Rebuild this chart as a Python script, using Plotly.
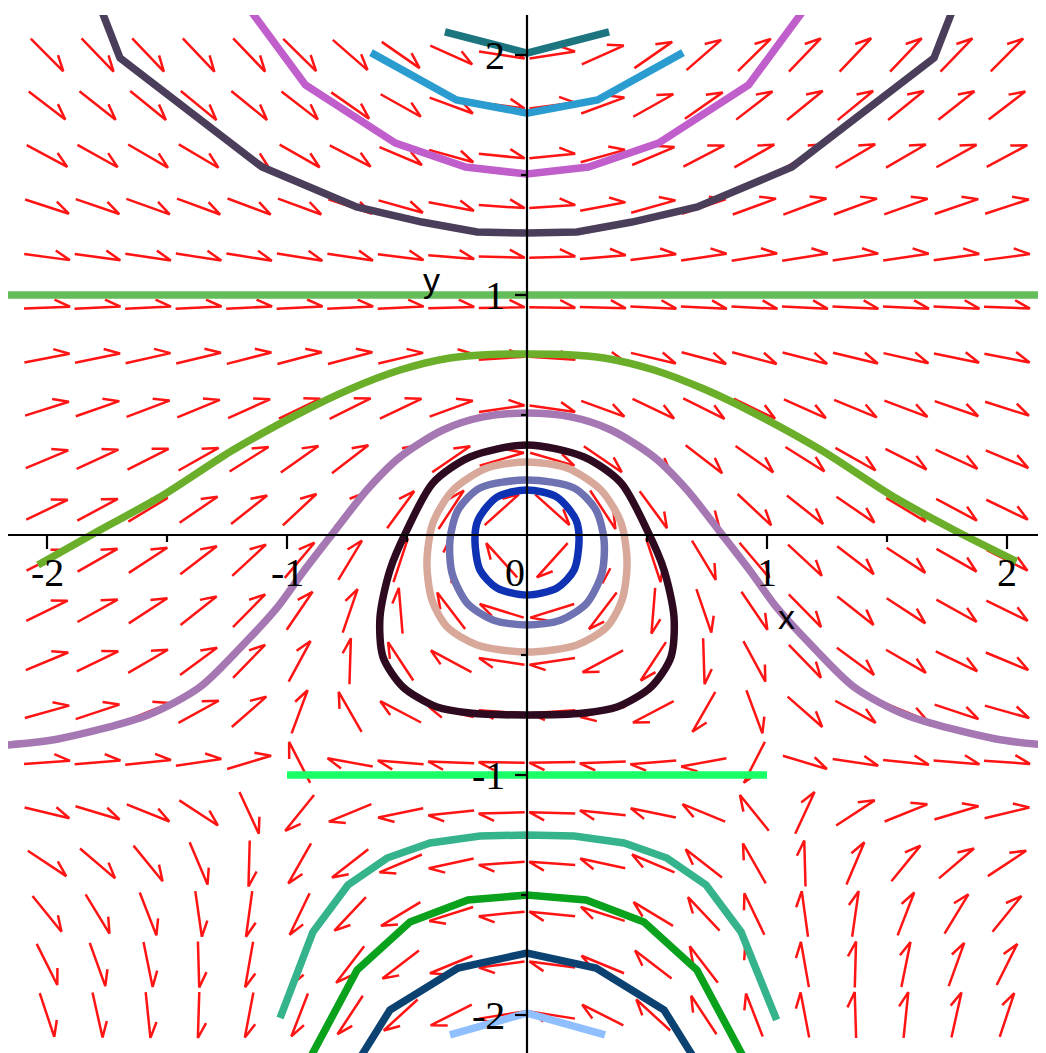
import numpy as np
import plotly.graph_objects as go

# ---------------- data ----------------
# direction-field grid (20 x 20 over [-2, 2])
grid_x = [-2 + i * 4 / 19 for i in range(20)]
grid_y = [-2 + j * 4 / 19 for j in range(20)]

# system: x' = y + x^2 ,  y' = -x (1 - y^2)
def field(x, y):
    return y + x * x, -x * (1 - y * y)

# trajectories (vertices)
traj_teal_x = [-0.342, 0.0, 0.342]
traj_teal_y = [2.096, 2.008, 2.096]

traj_sky_x = [-0.65, -0.294, 0.0, 0.294, 0.65]
traj_sky_y = [2.01, 1.8125, 1.758, 1.8125, 2.01]

traj_orchid_x = [-1.17, -0.923, -0.548, -0.256, 0.0, 0.256, 0.548, 0.923, 1.17]
traj_orchid_y = [2.21, 1.875, 1.633, 1.533, 1.504, 1.533, 1.633, 1.875, 2.21]

traj_dark_x = [-1.79, -1.696, -1.104, -0.71, -0.4375, -0.208, 0.0, 0.208, 0.4375, 0.71, 1.104, 1.696, 1.79]
traj_dark_y = [2.23, 1.988, 1.533, 1.367, 1.304, 1.2625, 1.258, 1.2625, 1.304, 1.367, 1.533, 1.988, 2.23]

traj_line_top_x = [-2.3, 2.3]
traj_line_top_y = [1.0, 1.0]

traj_bell_x = [-2.0375, -1.779, -1.529, -1.225, -0.946, -0.74, -0.529, -0.321, -0.15, 0.0,
               0.15, 0.321, 0.529, 0.74, 0.946, 1.225, 1.529, 1.779, 2.04]
traj_bell_y = [-0.125, 0.021, 0.158, 0.354, 0.508, 0.607, 0.6875, 0.7375, 0.752, 0.754,
               0.752, 0.7375, 0.6875, 0.607, 0.508, 0.354, 0.158, 0.021, -0.11]

traj_lav_x = [-2.2, -1.954, -1.579, -1.3625, -1.196, -1.042, -0.933, -0.808, -0.667, -0.529, -0.35, -0.183, 0.0,
              0.183, 0.35, 0.529, 0.667, 0.808, 0.933, 1.042, 1.196, 1.3625, 1.579, 1.954, 2.2]
traj_lav_y = [-0.878, -0.85, -0.75, -0.633, -0.471, -0.304, -0.154, 0.008, 0.1875, 0.325, 0.4375, 0.492, 0.508,
              0.492, 0.4375, 0.325, 0.1875, 0.008, -0.154, -0.304, -0.471, -0.633, -0.75, -0.85, -0.878]

loop_black_x = [0.0, -0.2375, -0.392, -0.5, -0.571, -0.6125, -0.6, -0.517, -0.375, -0.2375, 0.0,
                0.2375, 0.375, 0.517, 0.6, 0.6125, 0.571, 0.5, 0.392, 0.2375, 0.0]
loop_black_y = [0.375, 0.325, 0.217, 0.021, -0.146, -0.342, -0.508, -0.633, -0.717, -0.742, -0.75,
                -0.742, -0.717, -0.633, -0.508, -0.342, -0.146, 0.021, 0.217, 0.325, 0.375]

loop_tan_x = [0.0, -0.167, -0.308, -0.392, -0.417, -0.396, -0.333, -0.208, 0.0,
              0.208, 0.333, 0.396, 0.417, 0.392, 0.308, 0.167, 0.0]
loop_tan_y = [0.304, 0.279, 0.1875, 0.05, -0.117, -0.271, -0.383, -0.458, -0.4875,
              -0.458, -0.383, -0.271, -0.117, 0.05, 0.1875, 0.279, 0.304]

loop_slate_x = [0.0, -0.196, -0.2875, -0.321, -0.3125, -0.25, -0.142, 0.0,
                0.142, 0.25, 0.3125, 0.321, 0.2875, 0.196, 0.0]
loop_slate_y = [0.229, 0.196, 0.104, -0.021, -0.158, -0.283, -0.354, -0.375,
                -0.354, -0.283, -0.158, -0.021, 0.104, 0.196, 0.229]

loop_blue_x = [0.0, -0.125, -0.204, -0.217, -0.196, -0.125, 0.0,
               0.125, 0.196, 0.217, 0.204, 0.125, 0.0]
loop_blue_y = [0.1875, 0.158, 0.0625, -0.021, -0.146, -0.221, -0.25,
               -0.221, -0.146, -0.021, 0.0625, 0.158, 0.1875]

traj_line_bot_x = [-1.0, 1.0]
traj_line_bot_y = [-1.0, -1.0]

traj_tgreen_x = [-1.029, -0.892, -0.746, -0.583, -0.404, -0.196, 0.0, 0.196, 0.404, 0.583, 0.746, 0.892, 1.04]
traj_tgreen_y = [-2.0125, -1.654, -1.458, -1.346, -1.283, -1.254, -1.25, -1.254, -1.283, -1.346, -1.458, -1.654, -2.02]

traj_green_x = [-0.946, -0.708, -0.4875, -0.246, 0.0, 0.246, 0.4875, 0.708, 0.946]
traj_green_y = [-2.258, -1.8125, -1.6125, -1.521, -1.5, -1.521, -1.6125, -1.8125, -2.258]

traj_navy_x = [-0.74, -0.571, -0.2875, 0.0, 0.2875, 0.571, 0.74]
traj_navy_y = [-2.25, -1.979, -1.804, -1.742, -1.804, -1.979, -2.25]

traj_pale_x = [-0.321, 0.0, 0.325]
traj_pale_y = [-2.083, -1.992, -2.083]

# (x, y, colour, smooth?)
curves = [
    (traj_teal_x, traj_teal_y, "#1d7580", False),
    (traj_sky_x, traj_sky_y, "#2a9cd0", False),
    (traj_orchid_x, traj_orchid_y, "#c05ecc", False),
    (traj_dark_x, traj_dark_y, "#4a3e5a", False),
    (traj_line_top_x, traj_line_top_y, "#64bc5a", False),
    (traj_bell_x, traj_bell_y, "#6aae2a", True),
    (traj_lav_x, traj_lav_y, "#a678b3", True),
    (loop_black_x, loop_black_y, "#2e0a20", True),
    (loop_tan_x, loop_tan_y, "#d8a99a", True),
    (loop_slate_x, loop_slate_y, "#6e72b2", True),
    (loop_blue_x, loop_blue_y, "#0f32b4", True),
    (traj_line_bot_x, traj_line_bot_y, "#1aff66", False),
    (traj_tgreen_x, traj_tgreen_y, "#34b38c", False),
    (traj_green_x, traj_green_y, "#0aa21c", False),
    (traj_navy_x, traj_navy_y, "#0b4272", False),
    (traj_pale_x, traj_pale_y, "#8fbfff", False),
]

major_ticks = [-2, -1, 1, 2]
minor_ticks = [-1.5, -0.5, 0.5, 1.5]
x_tick_labels = ["-2", "-1", "0", "1", "2"]
x_tick_vals = [-2, -1, 0, 1, 2]
y_tick_labels = ["2", "1", "-1", "-2"]
y_tick_vals = [2, 1, -1, -2]

# ---------------- geometry ----------------
PX = 240.0  # pixels per unit
XR = [(8 - 527) / PX, (1046 - 527) / PX]
YR = [(535 - 1053) / PX, (535 - 15) / PX]

fig = go.Figure()

# direction field arrows (half-headed)
L = 46 / PX
B = 17 / PX
th = np.deg2rad(27)
ax, ay = [], []
for gx in grid_x:
    for gy in grid_y:
        u, v = field(gx, gy)
        n = np.hypot(u, v)
        dx, dy = u / n, v / n
        tx, ty = gx - dx * L / 2, gy - dy * L / 2
        hx, hy = gx + dx * L / 2, gy + dy * L / 2
        # barb: (-d) rotated by -th
        rx = (-dx) * np.cos(-th) - (-dy) * np.sin(-th)
        ry = (-dx) * np.sin(-th) + (-dy) * np.cos(-th)
        ax += [tx, hx, hx + rx * B, None]
        ay += [ty, hy, hy + ry * B, None]
fig.add_trace(go.Scatter(x=ax, y=ay, mode="lines",
                         line=dict(color="#ff1414", width=2.5), hoverinfo="skip"))

for cx, cy, col, smooth in curves:
    fig.add_trace(go.Scatter(x=cx, y=cy, mode="lines",
                             line=dict(color=col, width=7.5,
                                       shape="spline" if smooth else "linear",
                                       smoothing=0.8),
                             hoverinfo="skip"))

# axes (drawn above curves)
fig.add_trace(go.Scatter(x=[XR[0], XR[1]], y=[0, 0], mode="lines",
                         line=dict(color="black", width=2.2), hoverinfo="skip"))
fig.add_trace(go.Scatter(x=[0, 0], y=[YR[0], YR[1]], mode="lines",
                         line=dict(color="black", width=2.2), hoverinfo="skip"))
tx_, ty_ = [], []
for t in major_ticks:
    tx_ += [t, t, None]
    ty_ += [0, -14 / PX, None]
    tx_ += [0, -12 / PX, None]
    ty_ += [t, t, None]
for t in minor_ticks:
    tx_ += [t, t, None]
    ty_ += [0, -7 / PX, None]
    tx_ += [0, -6 / PX, None]
    ty_ += [t, t, None]
fig.add_trace(go.Scatter(x=tx_, y=ty_, mode="lines",
                         line=dict(color="black", width=2.2), hoverinfo="skip"))

serif = "Liberation Serif, Times New Roman, serif"
for v, lab in zip(x_tick_vals, x_tick_labels):
    xpos = v if v != 0 else -12 / PX
    fig.add_annotation(x=xpos, y=-37 / PX, text=lab, showarrow=False,
                       xanchor="center", yanchor="middle",
                       font=dict(family=serif, size=40, color="black"))
for v, lab in zip(y_tick_vals, y_tick_labels):
    fig.add_annotation(x=-20 / PX, y=v, text=lab, showarrow=False,
                       xanchor="right", yanchor="middle",
                       font=dict(family=serif, size=40, color="black"))

fig.add_annotation(x=1.083, y=-0.342, text="x", showarrow=False,
                   font=dict(family="Liberation Sans, Arial, sans-serif", size=34, color="black"))
fig.add_annotation(x=-0.396, y=1.0625, text="y", showarrow=False,
                   font=dict(family="Liberation Sans, Arial, sans-serif", size=34, color="black"))

# the page body adds an 8 px offset, so the figure itself starts at (8, 8)
fig.update_layout(
    width=1038, height=1045,
    margin=dict(l=0, r=0, t=7, b=0),
    paper_bgcolor="white", plot_bgcolor="white",
    showlegend=False,
    xaxis=dict(range=XR, visible=False, fixedrange=True),
    yaxis=dict(range=YR, visible=False, fixedrange=True),
)

fig.write_html("out.html")
